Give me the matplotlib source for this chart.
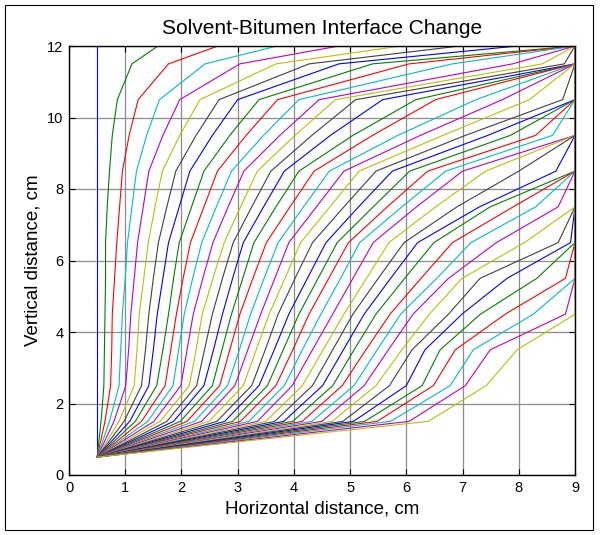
import matplotlib
matplotlib.use('Agg')
import matplotlib.pyplot as plt
from matplotlib.patches import Rectangle
import numpy as np

plt.rcParams['font.family'] = ['Liberation Sans', 'DejaVu Sans']

# interface levels (cm) and x position of each of the 41 interfaces at every level
levels = [0.5, 1.5, 2.5, 3.5, 4.5, 5.5, 6.5, 7.5, 8.5, 9.5, 10.5, 11.5, 12.0]

x_05 = [0.5] * 41
x_15 = [0.50, 0.57, 0.64, 0.72, 0.80, 0.89, 0.98, 1.08, 1.18, 1.29, 1.40, 1.51, 1.62, 1.74,
        1.86, 1.98, 2.10, 2.23, 2.36, 2.49, 2.63, 2.77, 2.91, 3.05, 3.20, 3.35, 3.50, 3.66,
        3.82, 3.98, 4.15, 4.32, 4.50, 4.68, 4.87, 5.06, 5.26, 5.48, 5.72, 6.05, 6.39]
x_25 = [0.50, 0.62, 0.74, 0.89, 1.01, 1.16, 1.29, 1.42, 1.56, 1.71, 1.85, 1.99, 2.14, 2.27,
        2.40, 2.55, 2.68, 2.82, 2.95, 3.10, 3.25, 3.38, 3.53, 3.68, 3.83, 3.97, 4.15, 4.33,
        4.51, 4.69, 4.86, 5.07, 5.25, 5.46, 5.70, 6.00, 6.28, 6.48, 6.78, 7.05, 7.42]
x_35 = [0.50, 0.63, 0.76, 0.92, 1.06, 1.21, 1.36, 1.50, 1.67, 1.81, 1.95, 2.10, 2.26, 2.41,
        2.57, 2.72, 2.86, 3.03, 3.18, 3.33, 3.49, 3.65, 3.81, 3.98, 4.15, 4.33, 4.52, 4.69,
        4.88, 5.07, 5.28, 5.48, 5.68, 5.92, 6.10, 6.33, 6.60, 6.87, 7.19, 7.49, 7.97]
x_45 = [0.50, 0.64, 0.77, 0.95, 1.10, 1.25, 1.42, 1.57, 1.77, 1.91, 2.05, 2.21, 2.37, 2.55,
        2.73, 2.89, 3.04, 3.23, 3.41, 3.56, 3.72, 3.91, 4.09, 4.27, 4.48, 4.69, 4.89, 5.05,
        5.25, 5.46, 5.71, 5.90, 6.12, 6.41, 6.75, 6.99, 7.32, 7.76, 8.26, 8.83, 9.00]
x_55 = [0.50, 0.65, 0.81, 1.00, 1.16, 1.33, 1.50, 1.67, 1.86, 2.03, 2.20, 2.38, 2.56, 2.73,
        2.91, 3.09, 3.27, 3.47, 3.66, 3.84, 4.02, 4.24, 4.43, 4.62, 4.83, 5.05, 5.29, 5.50,
        5.72, 5.97, 6.26, 6.54, 6.75, 6.99, 7.31, 7.79, 8.32, 8.83, 9.00, 9.00, 9.00]
x_65 = [0.50, 0.65, 0.85, 1.04, 1.22, 1.41, 1.59, 1.77, 1.96, 2.16, 2.36, 2.56, 2.76, 2.92,
        3.10, 3.29, 3.51, 3.72, 3.91, 4.12, 4.33, 4.57, 4.77, 4.97, 5.17, 5.41, 5.69, 5.96,
        6.20, 6.49, 6.82, 7.15, 7.60, 8.10, 8.70, 8.92, 9.00, 9.00, 9.00, 9.00, 9.00]
x_75 = [0.50, 0.68, 0.90, 1.12, 1.32, 1.53, 1.74, 1.96, 2.18, 2.40, 2.62, 2.83, 3.05, 3.25,
        3.46, 3.68, 3.93, 4.17, 4.40, 4.64, 4.89, 5.15, 5.41, 5.66, 5.92, 6.18, 6.52, 6.90,
        7.30, 7.49, 7.90, 8.30, 8.70, 9.00, 9.00, 9.00, 9.00, 9.00, 9.00, 9.00, 9.00]
x_85 = [0.50, 0.72, 0.95, 1.20, 1.42, 1.66, 1.90, 2.15, 2.40, 2.64, 2.89, 3.11, 3.35, 3.59,
        3.83, 4.09, 4.36, 4.63, 4.89, 5.16, 5.46, 5.75, 6.06, 6.38, 6.70, 7.00, 7.41, 8.00,
        8.66, 9.00, 9.00, 9.00, 9.00, 9.00, 9.00, 9.00, 9.00, 9.00, 9.00, 9.00, 9.00]
x_95 = [0.50, 0.77, 1.07, 1.38, 1.67, 1.97, 2.26, 2.55, 2.86, 3.15, 3.46, 3.75, 4.02, 4.32,
        4.65, 5.05, 5.40, 5.85, 6.25, 6.65, 7.05, 7.45, 7.85, 8.30, 8.60, 9.00, 9.00, 9.00,
        9.00, 9.00, 9.00, 9.00, 9.00, 9.00, 9.00, 9.00, 9.00, 9.00, 9.00, 9.00, 9.00]
x_105 = [0.50, 0.86, 1.23, 1.61, 1.97, 2.33, 2.67, 3.00, 3.38, 3.71, 4.09, 4.45, 4.74, 5.10,
         5.58, 6.17, 6.52, 7.24, 7.71, 8.19, 8.78, 9.00, 9.00, 9.00, 9.00, 9.00, 9.00, 9.00,
         9.00, 9.00, 9.00, 9.00, 9.00, 9.00, 9.00, 9.00, 9.00, 9.00, 9.00, 9.00, 9.00]
x_115 = [0.50, 1.12, 1.77, 2.42, 3.04, 3.68, 4.27, 4.80, 5.40, 6.05, 6.82, 7.89, 8.42, 8.81,
         9.00, 9.00, 9.00, 9.00, 9.00, 9.00, 9.00, 9.00, 9.00, 9.00, 9.00, 9.00, 9.00, 9.00,
         9.00, 9.00, 9.00, 9.00, 9.00, 9.00, 9.00, 9.00, 9.00, 9.00, 9.00, 9.00, 9.00]
x_120 = [0.50, 1.58, 2.65, 3.70, 4.80, 5.90, 6.95, 7.97, 9.00, 9.00, 9.00, 9.00, 9.00, 9.00,
         9.00, 9.00, 9.00, 9.00, 9.00, 9.00, 9.00, 9.00, 9.00, 9.00, 9.00, 9.00, 9.00, 9.00,
         9.00, 9.00, 9.00, 9.00, 9.00, 9.00, 9.00, 9.00, 9.00, 9.00, 9.00, 9.00, 9.00]

xticks = list(range(0, 10))
yticks = list(range(0, 13, 2))

# old matlab colour order
line_colors = [(0, 0, 1), (0, 0.5, 0), (1, 0, 0), (0, 0.75, 0.75),
               (0.75, 0, 0.75), (0.75, 0.75, 0), (0.25, 0.25, 0.25)]

xs = np.array([x_05, x_15, x_25, x_35, x_45, x_55, x_65, x_75, x_85,
               x_95, x_105, x_115, x_120])

fig = plt.figure(figsize=(6.0, 5.35), dpi=100)
ax = fig.add_axes([69 / 600, 1 - 475 / 535, 506 / 600, 429 / 535])

for k in range(xs.shape[1]):
    ax.plot(xs[:, k], levels, color=line_colors[k % 7], lw=0.8)

ax.set_xlim(0, 9)
ax.set_ylim(0, 12)
ax.set_xticks(xticks)
ax.set_yticks(yticks)
ax.grid(True, color='#8c8c8c', lw=0.9)
ax.set_axisbelow(True)
ax.tick_params(direction='in', top=True, right=True, length=4, labelsize=10.5, pad=4)
for s in ax.spines.values():
    s.set_linewidth(1.0)

ax.set_title('Solvent-Bitumen Interface Change', fontsize=15, pad=9)
ax.set_xlabel('Horizontal distance, cm', fontsize=13.5, labelpad=4)
ax.set_ylabel('Vertical distance, cm', fontsize=13.5, labelpad=4)

fig.patches.append(Rectangle((5 / 600, 5 / 535), 588 / 600, 525 / 535,
                             transform=fig.transFigure, fill=False,
                             edgecolor='black', lw=0.8))

fig.savefig('out.png', dpi=100)
